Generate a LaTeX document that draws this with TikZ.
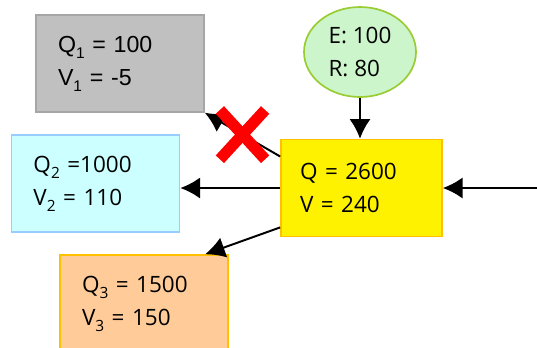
\documentclass[tikz,border=0pt]{standalone}
\usepackage{fontspec}
\setmainfont{Open Sans}
\newfontfamily\arialfont{Liberation Sans}
\usetikzlibrary{arrows.meta,positioning,calc,shapes.misc,shapes.geometric}

\definecolor{grayfill}{HTML}{C0C0C0}
\definecolor{grayline}{HTML}{A6A6A6}
\definecolor{cyanfill}{HTML}{CCFFFF}
\definecolor{cyanline}{HTML}{99CCFF}
\definecolor{orangefill}{HTML}{FFCC99}
\definecolor{goldline}{HTML}{FFC000}
\definecolor{greenfill}{HTML}{CCF5CC}
\definecolor{greenline}{HTML}{99CC33}

\newcommand\lowidx[1]{\raisebox{-0.5ex}{\fontsize{11}{11}\selectfont #1}}

\begin{document}
\begin{tikzpicture}[
  >=Latex,
  font=\fontsize{16}{23.5}\selectfont,
  line/.style={-{Latex[length=14pt,width=15pt]}, line width=1.4pt},
  tank/.style={
    draw, line width=1.2pt, align=left, inner xsep=0.55cm,
    text width=3.1cm, minimum height=2.42cm
  },
  inflow/.style={
    draw=greenline, fill=greenfill, ellipse, line width=1.2pt, align=left,
    minimum width=2.8cm, minimum height=2.25cm, inner sep=0pt
  },
  blocked/.style={cross out, draw=red, line width=8pt,
    minimum width=0.85cm, minimum height=0.95cm}
]
\useasboundingbox (0,0) rectangle (13.425,-8.675);

% Boxes
\node[tank, draw=grayline, fill=grayfill, font=\arialfont\fontsize{16.5}{23.5}\selectfont]
  (q1) at (3.0,-1.5875) {Q\lowidx{1} = 100\\V\lowidx{1} = -5};
\node[tank, draw=cyanline, fill=cyanfill] (q2) at (2.3875,-4.5875)
  {Q\lowidx{2} =1000\\V\lowidx{2} = 110};
\node[tank, draw=goldline, fill=yellow, text width=3.075cm, inner xsep=0.475cm]
  (main) at (9.0375,-4.7) {Q = 2600\\V = 240};
\node[tank, draw=goldline, fill=orangefill] (q3) at (3.6,-7.5875)
  {Q\lowidx{3} = 1500\\V\lowidx{3} = 150};

% Inflow ellipse
\node[inflow] (er) at (9.0,-1.3) {E: 100\\R: 80};

% Incoming branch
\coordinate (src) at (13.425,-4.7);
\draw[line] (src) -- (main.east);
\draw[line] (er.south) -- (er.south |- main.north);

% Outgoing branches
\draw[line] (main.west) -- (main.west -| q2.east);
\draw[line] ($(main.north west)!0.18!(main.south west)$) -- (q1.south east)
  node[blocked, pos=0.5] (cut) {};
\draw[line] ($(main.north west)!0.9!(main.south west)$)
  -- ($(q3.north west)!0.86!(q3.north east)$);

\end{tikzpicture}
\end{document}
